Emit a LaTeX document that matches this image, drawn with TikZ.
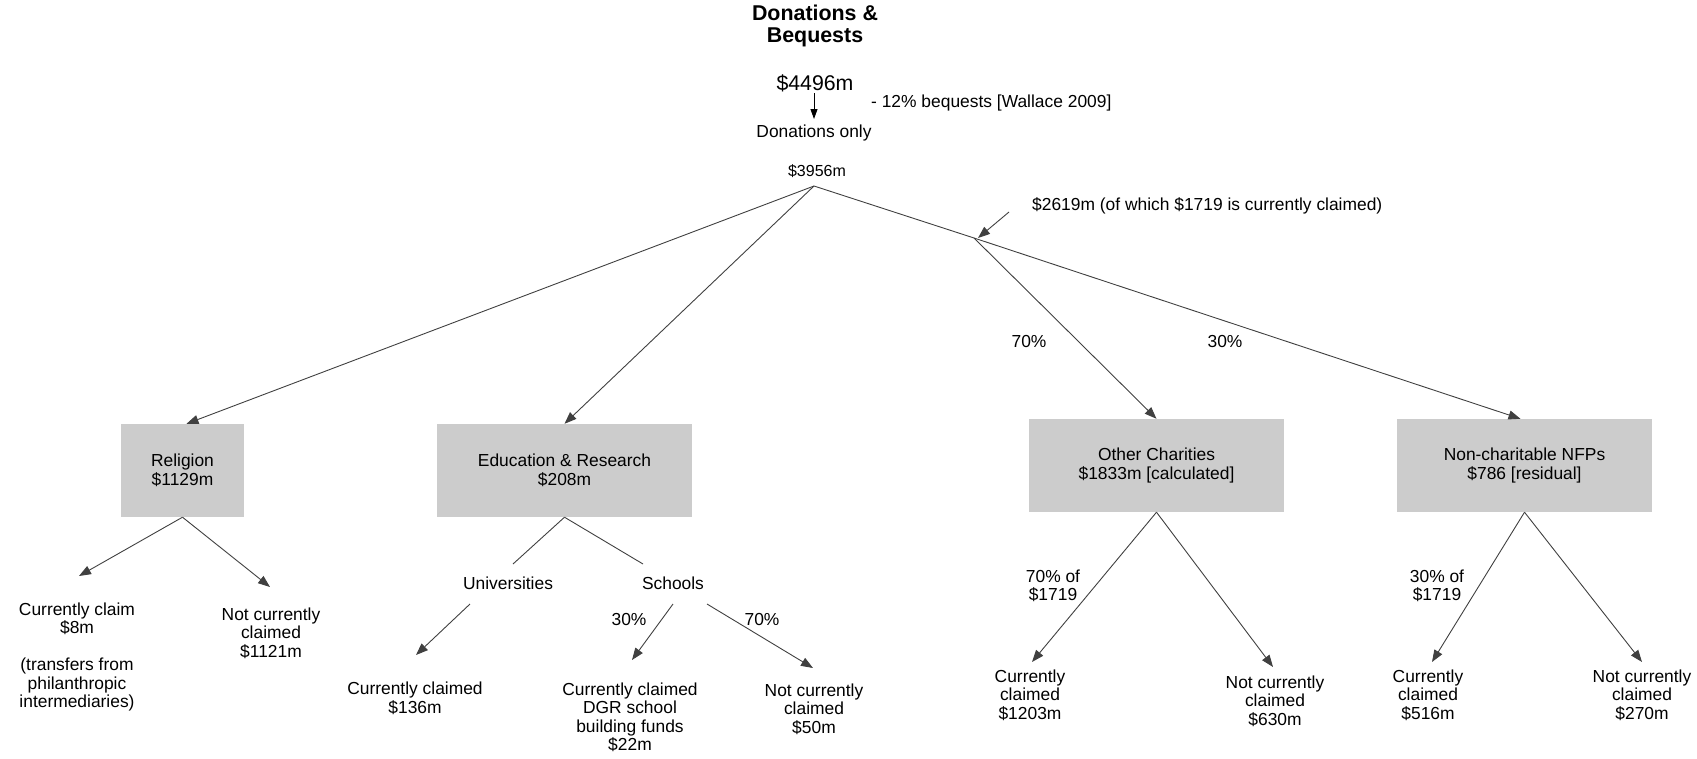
\documentclass[tikz,border=0pt]{standalone}
\usepackage{fontspec}
\setmainfont{Liberation Sans}
\usetikzlibrary{arrows.meta}
\definecolor{boxgray}{HTML}{CCCCCC}
\definecolor{linegray}{HTML}{404040}
\begin{document}
\begin{tikzpicture}[x=1pt,y=-1pt,
  txt/.style={font=\fontsize{17.4pt}{18.5pt}\selectfont, align=center, inner sep=0pt},
  bigtxt/.style={font=\fontsize{21.3pt}{22pt}\selectfont, align=center, inner sep=0pt},
  titletxt/.style={font=\bfseries\fontsize{21.4pt}{22pt}\selectfont, align=center, inner sep=0pt},
  catbox/.style={txt, fill=boxgray, draw=none, minimum height=93pt},
  conn/.style={draw=linegray, line width=0.9pt},
  arr/.style={conn, -{Triangle[length=12pt,width=9pt]}},
  toparr/.style={draw=black, line width=0.9pt, -{Triangle[length=10pt,width=7pt]}},
]
\useasboundingbox (0,0) rectangle (1697,758);

% top
\node[titletxt] (title) at (815,26) {Donations \&\\Bequests};
\node[bigtxt] (total) at (815,83) {\$4496m};
\coordinate (totb) at (814,93);
\coordinate (donlyt) at (814,119);
\draw[toparr] (totb) -- (donlyt);
\node[txt, anchor=west] (beq) at (871,103) {- 12\% bequests [Wallace 2009]};
\node[txt] (donly) at (814,133) {Donations only};
\node[txt, font=\fontsize{16pt}{18pt}\selectfont] (don) at (817,171) {\$3956m};
\coordinate (B) at (814,186);
\coordinate (K) at (974,238);
\node[txt, anchor=west] (rest) at (1032,206) {\$2619m (of which \$1719 is currently claimed)};
\coordinate (restarr) at (1009,212);
\coordinate (Ktip) at (978,238);

% category boxes
\node[catbox, minimum width=123pt] (rel) at (182.5,470.5) {Religion\\\$1129m};
\node[catbox, minimum width=255pt] (edu) at (564.5,470.5) {Education \& Research\\\$208m};
\node[catbox, minimum width=255pt] (oth) at (1156.5,465.5) {Other Charities\\\$1833m [calculated]};
\node[catbox, minimum width=255pt] (nfp) at (1524.5,465.5) {Non-charitable NFPs\\\$786 [residual]};

\draw[arr] (B) -- ([xshift=4pt]rel.north);
\draw[arr] (B) -- (edu.north);
\draw[conn] (B) -- (K);
\draw[arr] (restarr) -- (Ktip);
\draw[arr] (K) -- (oth.north);
\draw[arr] (K) -- ([xshift=-4pt]nfp.north);
\node[txt] (p70) at (1029,342) {70\%};
\node[txt] (p30) at (1225,342) {30\%};

% religion children
\coordinate (relL) at (79,576);
\coordinate (relR) at (270,587);
\draw[arr] (rel.south) -- (relL);
\draw[arr] (rel.south) -- (relR);
\node[txt] (relclaim) at (77,657) {Currently claim\\\$8m\\[18.5pt](transfers from\\philanthropic\\intermediaries)};
\node[txt] (relnot) at (271,633) {Not currently\\claimed\\\$1121m};

% education children
\coordinate (uniT) at (513,564);
\coordinate (schT) at (643,564);
\draw[conn] (edu.south) -- (uniT);
\draw[conn] (edu.south) -- (schT);
\node[txt] (uni) at (508,583) {Universities};
\node[txt] (sch) at (673,583) {Schools};
\coordinate (uniA) at (470,604);
\coordinate (uniB) at (416,655);
\draw[arr] (uniA) -- (uniB);
\node[txt] (uniclaim) at (415,698.5) {Currently claimed\\\$136m};
\coordinate (schA) at (673,604);
\coordinate (schB) at (632,660);
\coordinate (schC) at (707,604);
\coordinate (schD) at (813,668);
\draw[arr] (schA) -- (schB);
\draw[arr] (schC) -- (schD);
\node[txt] (s30) at (629,619) {30\%};
\node[txt] (s70) at (762,619) {70\%};
\node[txt] (schclaim) at (630,717.5) {Currently claimed\\DGR school\\building funds\\\$22m};
\node[txt] (schnot) at (814,709) {Not currently\\claimed\\\$50m};

% other charities children
\coordinate (othL) at (1032,662);
\coordinate (othR) at (1273,667);
\draw[arr] (oth.south) -- (othL);
\draw[arr] (oth.south) -- (othR);
\node[txt] (o70) at (1053,586) {70\% of\\\$1719};
\node[txt] (othclaim) at (1030,695) {Currently\\claimed\\\$1203m};
\node[txt] (othnot) at (1275,701) {Not currently\\claimed\\\$630m};

% non-charitable children
\coordinate (nfpL) at (1432,662);
\coordinate (nfpR) at (1642,662);
\draw[arr] (nfp.south) -- (nfpL);
\draw[arr] (nfp.south) -- (nfpR);
\node[txt] (n30) at (1437,586) {30\% of\\\$1719};
\node[txt] (nfpclaim) at (1428,695) {Currently\\claimed\\\$516m};
\node[txt] (nfpnot) at (1642,695) {Not currently\\claimed\\\$270m};
\end{tikzpicture}
\end{document}
